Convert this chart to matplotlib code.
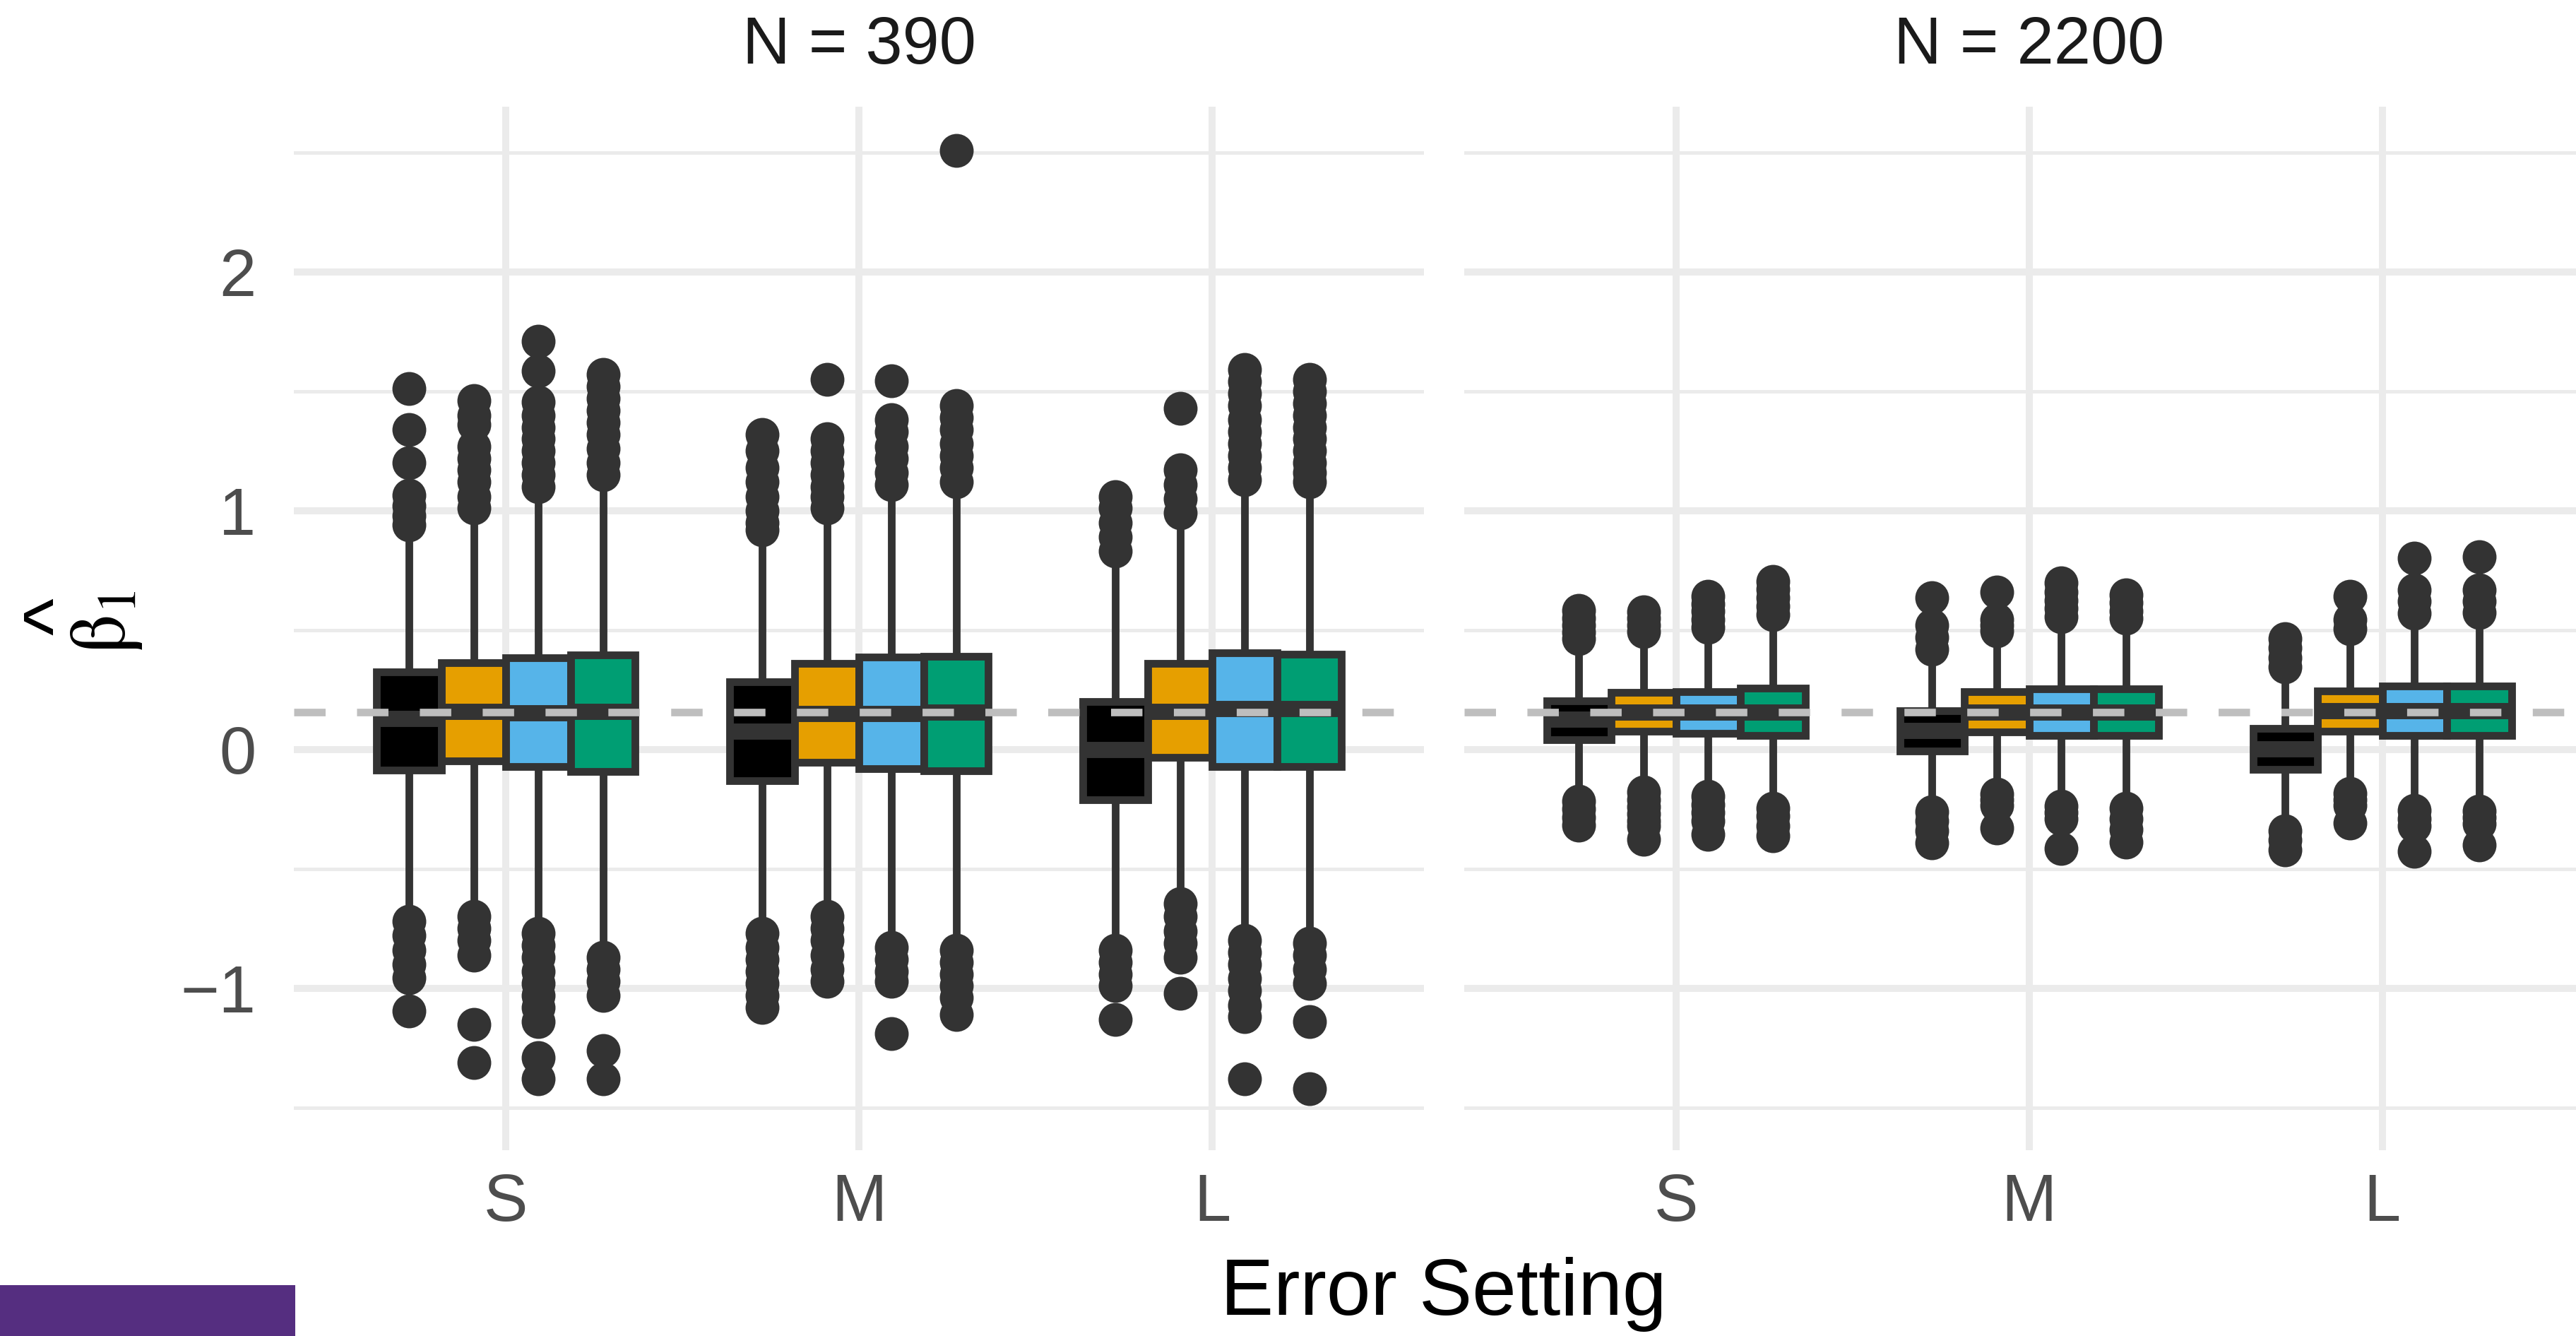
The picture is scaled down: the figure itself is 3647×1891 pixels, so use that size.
import matplotlib
matplotlib.use("Agg")
import matplotlib.pyplot as plt
from matplotlib.patches import Rectangle

plt.rcParams.update({"font.family": ["Liberation Sans", "DejaVu Sans"],
                     "mathtext.fontset": "stix"})

panels = ["N = 390", "N = 2200"]
settings = ["S", "M", "L"]
method_colors = ["#000000", "#E69F00", "#56B4E9", "#009E73"]
true_beta = 0.156

# ---- N = 390 : rows S, M, L ; columns = 4 methods ----
q1_390 = [[-0.086, -0.049, -0.070, -0.092],
          [-0.130, -0.053, -0.080, -0.088],
          [-0.210, -0.033, -0.070, -0.070]]
med_390 = [[0.130, 0.160, 0.152, 0.160],
           [0.077, 0.150, 0.150, 0.155],
           [0.000, 0.160, 0.170, 0.170]]
q3_390 = [[0.324, 0.364, 0.383, 0.396],
          [0.285, 0.360, 0.386, 0.390],
          [0.200, 0.360, 0.405, 0.400]]
wlo_390 = [[-0.68, -0.66, -0.74, -0.81],
           [-0.73, -0.66, -0.77, -0.80],
           [-0.81, -0.61, -0.78, -0.77]]
whi_390 = [[0.91, 0.97, 1.05, 1.10],
           [0.89, 0.97, 1.07, 1.09],
           [0.80, 0.94, 1.10, 1.09]]
out_390 = [
    [[1.51, 1.34, 1.20, 1.065, 1.02, 0.98, 0.94, -0.72, -0.78, -0.84, -0.90, -0.955, -1.095],
     [1.46, 1.40, 1.36, 1.27, 1.22, 1.17, 1.12, 1.06, 1.01, -0.70, -0.75, -0.80, -0.86, -1.15, -1.31],
     [1.71, 1.585, 1.455, 1.40, 1.35, 1.30, 1.25, 1.20, 1.15, 1.10,
      -0.77, -0.82, -0.87, -0.93, -0.98, -1.03, -1.08, -1.14, -1.29, -1.38],
     [1.57, 1.52, 1.47, 1.42, 1.37, 1.32, 1.26, 1.20, 1.15, -0.87, -0.92, -0.97, -1.03, -1.26, -1.38]],
    [[1.32, 1.25, 1.18, 1.12, 1.06, 1.00, 0.95, 0.92, -0.77, -0.83, -0.88, -0.93, -0.98, -1.03, -1.08],
     [1.55, 1.30, 1.25, 1.20, 1.15, 1.10, 1.06, 1.01, -0.70, -0.75, -0.80, -0.86, -0.92, -0.97],
     [1.545, 1.38, 1.33, 1.27, 1.22, 1.16, 1.11, -0.83, -0.88, -0.93, -0.97, -1.19],
     [2.51, 1.44, 1.39, 1.34, 1.28, 1.23, 1.18, 1.12, -0.84, -0.89, -0.94, -0.99, -1.04, -1.11]],
    [[1.06, 1.01, 0.95, 0.89, 0.83, -0.84, -0.89, -0.94, -0.99, -1.13],
     [1.43, 1.17, 1.11, 1.05, 0.99, -0.645, -0.70, -0.76, -0.81, -0.87, -1.02],
     [1.59, 1.54, 1.49, 1.44, 1.38, 1.33, 1.28, 1.23, 1.18, 1.13,
      -0.80, -0.85, -0.90, -0.96, -1.01, -1.07, -1.12, -1.38],
     [1.55, 1.50, 1.45, 1.40, 1.35, 1.30, 1.25, 1.20, 1.16, 1.12, -0.81, -0.86, -0.92, -0.98, -1.14, -1.42]],
]

# ---- N = 2200 ----
q1_2200 = [[0.040, 0.077, 0.069, 0.059],
           [-0.005, 0.074, 0.060, 0.060],
           [-0.082, 0.077, 0.060, 0.060]]
med_2200 = [[0.127, 0.155, 0.155, 0.155],
            [0.078, 0.155, 0.155, 0.155],
            [0.003, 0.163, 0.163, 0.163]]
q3_2200 = [[0.205, 0.238, 0.243, 0.256],
           [0.161, 0.241, 0.255, 0.255],
           [0.087, 0.246, 0.265, 0.265]]
wlo_2200 = [[-0.20, -0.16, -0.185, -0.23],
            [-0.25, -0.17, -0.23, -0.23],
            [-0.33, -0.17, -0.245, -0.25]]
whi_2200 = [[0.44, 0.47, 0.49, 0.54],
            [0.40, 0.48, 0.54, 0.54],
            [0.33, 0.49, 0.56, 0.56]]
out_2200 = [
    [[0.583, 0.55, 0.52, 0.49, 0.465, -0.216, -0.25, -0.285, -0.316],
     [0.578, 0.55, 0.52, 0.494, -0.177, -0.21, -0.24, -0.27, -0.30, -0.32, -0.376],
     [0.642, 0.61, 0.58, 0.545, 0.51, -0.195, -0.23, -0.263, -0.30, -0.355],
     [0.704, 0.67, 0.635, 0.60, 0.565, -0.245, -0.28, -0.32, -0.36]],
    [[0.637, 0.52, 0.47, 0.42, -0.26, -0.30, -0.34, -0.39],
     [0.66, 0.545, 0.52, 0.498, -0.186, -0.21, -0.235, -0.33],
     [0.698, 0.66, 0.625, 0.59, 0.555, -0.237, -0.265, -0.29, -0.415],
     [0.647, 0.615, 0.58, 0.55, -0.245, -0.29, -0.335, -0.387]],
    [[0.465, 0.425, 0.385, 0.347, -0.341, -0.38, -0.42],
     [0.642, 0.545, 0.506, -0.184, -0.21, -0.235, -0.308],
     [0.80, 0.667, 0.62, 0.572, -0.254, -0.29, -0.32, -0.426],
     [0.808, 0.667, 0.62, 0.575, -0.257, -0.285, -0.31, -0.40]],
]

BOX_W = 0.183
EDGE = "#333333"

fig = plt.figure(figsize=(3647 / 300, 1891 / 300), dpi=300)
ax_l = fig.add_axes([0.11418, 0.13908, 0.43872, 0.78107])
ax_r = fig.add_axes([0.56828, 0.13908, 0.43872, 0.78107])


def draw_panel(ax, q1, med, q3, wlo, whi, fliers):
    stats, pos, cols = [], [], []
    for g in range(len(settings)):
        for m in range(len(method_colors)):
            stats.append(dict(q1=q1[g][m], med=med[g][m], q3=q3[g][m],
                              whislo=wlo[g][m], whishi=whi[g][m], fliers=fliers[g][m]))
            pos.append(g + 1 + (m - 1.5) * BOX_W)
            cols.append(method_colors[m])
    art = ax.bxp(stats, positions=pos, widths=BOX_W, patch_artist=True, showcaps=False,
                 boxprops=dict(edgecolor=EDGE, linewidth=2.6),
                 whiskerprops=dict(color=EDGE, linewidth=2.6, solid_capstyle="butt"),
                 medianprops=dict(color=EDGE, linewidth=5.5, solid_capstyle="butt"),
                 flierprops=dict(marker="o", markersize=11.5, markerfacecolor=EDGE,
                                 markeredgewidth=0, linestyle="none"),
                 zorder=3)
    for box, c in zip(art["boxes"], cols):
        box.set_facecolor(c)
    ax.axhline(true_beta, color="#BEBEBE", lw=2.56, ls=(0, (4.17, 4.17)), zorder=6)


draw_panel(ax_l, q1_390, med_390, q3_390, wlo_390, whi_390, out_390)
draw_panel(ax_r, q1_2200, med_2200, q3_2200, wlo_2200, whi_2200, out_2200)

for ax, title in zip([ax_l, ax_r], panels):
    ax.set_xlim(0.4, 3.6)
    ax.set_ylim(-1.678, 2.692)
    ax.set_xticks([1, 2, 3])
    ax.set_xticklabels(settings)
    ax.set_yticks([-1, 0, 1, 2])
    ax.set_yticklabels(["\u22121", "0", "1", "2"])
    ax.set_yticks([-1.5, -0.5, 0.5, 1.5, 2.5], minor=True)
    ax.grid(which="major", color="#EBEBEB", lw=2.4)
    ax.grid(which="minor", axis="y", color="#EBEBEB", lw=1.2)
    ax.set_axisbelow(True)
    for s in ax.spines.values():
        s.set_visible(False)
    ax.tick_params(which="both", length=0)
    ax.tick_params(axis="x", labelsize=22.5, labelcolor="#4D4D4D", pad=7.5)
    ax.tick_params(axis="y", labelsize=22.5, labelcolor="#4D4D4D", pad=13)
    ax.text(0.5, 1.0413, title, transform=ax.transAxes, ha="center", va="baseline",
            fontsize=22.5, color="#1A1A1A")

ax_r.tick_params(axis="y", labelleft=False)

fig.text(0.5605, 0.0159, "Error Setting", ha="center", va="baseline", fontsize=27)
# y label: R plotmath hat(beta)[1] -- upright beta with a wide caret set apart above it
fig.text(151 / 3647, 1 - 881 / 1891, r"$\mathrm{\beta}_{\mathrm{1}}$", rotation=90,
         ha="center", va="center", fontsize=27)
fig.text(0.0228, 1 - 873 / 1891, "^", rotation=90, ha="center", va="center", fontsize=27)

fig.add_artist(Rectangle((0, 0), 418 / 3647, 72 / 1891, transform=fig.transFigure,
                         facecolor="#552E80", edgecolor="none"))

fig.savefig("out.png", dpi=300)
